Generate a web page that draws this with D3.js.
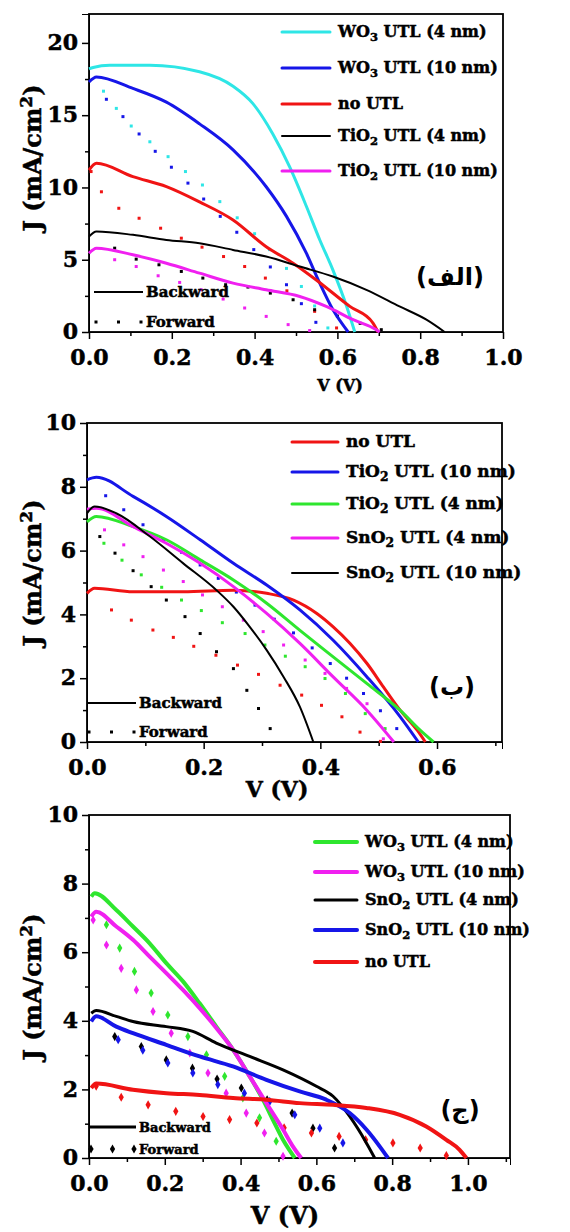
<!DOCTYPE html>
<html>
<head>
<meta charset="utf-8">
<script src="https://cdn.jsdelivr.net/npm/d3@7"></script>
<style>
  body { margin: 0; background: #fff; }
  svg { display: block; }
  .tick text { font-family: "DejaVu Serif", serif; font-weight: bold; }
  .heavy { stroke: #000; stroke-width: 0.5px; }
</style>
</head>
<body>
<div id="chart"></div>
<script>
// ---- panel (a) : [V, J] pairs, backward (solid) and forward (dots)
const a_wo3_4_bwd = [[0.0,18.2],[0.01,18.3],[0.05,18.45],[0.147,18.45],[0.267,18.0],[0.348,17.0],[0.396,15.8],[0.444,13.7],[0.485,11.4],[0.525,8.7],[0.557,6.4],[0.589,4.3],[0.622,1.8],[0.642,0]];
const a_wo3_10_bwd = [[0.0,17.3],[0.018,17.65],[0.106,16.85],[0.187,15.9],[0.267,14.4],[0.348,12.6],[0.428,10.05],[0.477,8.0],[0.525,5.45],[0.557,3.4],[0.589,1.55],[0.626,0]];
const a_noutl_bwd = [[0.0,11.2],[0.018,11.67],[0.106,10.75],[0.187,10.06],[0.267,9.0],[0.348,7.75],[0.428,5.9],[0.493,4.76],[0.549,3.6],[0.63,1.77],[0.686,0.62],[0.698,0]];
const a_tio2_4_bwd = [[0.0,6.6],[0.018,6.95],[0.106,6.72],[0.187,6.37],[0.267,6.14],[0.348,5.68],[0.428,5.22],[0.509,4.53],[0.589,3.84],[0.67,2.92],[0.75,1.77],[0.815,0.85],[0.859,0]];
const a_tio2_10_bwd = [[0.0,5.45],[0.018,5.8],[0.106,5.34],[0.187,4.76],[0.267,4.07],[0.348,3.38],[0.428,2.92],[0.509,2.46],[0.573,1.77],[0.638,0.85],[0.694,0.16],[0.702,0]];

const a_wo3_4_fwd = [[0.035,16.66],[0.066,15.47],[0.102,14.25],[0.147,13.16],[0.191,12.13],[0.233,11.1],[0.274,10.17],[0.316,9.02],[0.358,7.9],[0.4,6.8],[0.436,5.7],[0.477,4.4],[0.513,3.15],[0.545,1.8],[0.577,0.28]];
const a_wo3_10_fwd = [[0.042,16.1],[0.082,14.9],[0.121,13.7],[0.16,12.5],[0.199,11.4],[0.239,10.3],[0.277,9.2],[0.317,8.0],[0.357,6.9],[0.398,5.7],[0.438,4.5],[0.477,3.27],[0.513,1.96],[0.548,0.67]];
const a_noutl_fwd = [[0.005,11.1],[0.03,9.7],[0.072,8.56],[0.121,7.87],[0.173,7.18],[0.223,6.49],[0.273,5.87],[0.325,5.22],[0.376,4.53],[0.426,3.73],[0.478,2.85],[0.545,1.43],[0.598,0.28]];
const a_tio2_4_fwd = [[0.062,5.8],[0.114,5.04],[0.169,4.65],[0.223,4.19],[0.275,3.73],[0.33,3.27],[0.384,3.11],[0.438,2.69],[0.493,2.23],[0.545,1.54],[0.6,1.1],[0.655,0.6],[0.706,0.16]];
const a_tio2_10_fwd = [[0.062,5.0],[0.114,4.53],[0.167,3.89],[0.219,3.43],[0.271,2.92],[0.324,2.28],[0.376,1.66],[0.428,1.08],[0.481,0.51],[0.533,0.1]];

// ---- panel (b)
const b_noutl_bwd = [[0.0,4.66],[0.013,4.82],[0.079,4.71],[0.165,4.71],[0.251,4.76],[0.308,4.66],[0.354,4.45],[0.394,4.03],[0.422,3.61],[0.451,3.09],[0.48,2.46],[0.508,1.73],[0.537,0.99],[0.566,0.37],[0.58,0]];
const b_tio2_10_bwd = [[0.0,8.22],[0.016,8.3],[0.079,7.7],[0.136,7.07],[0.194,6.34],[0.251,5.6],[0.308,4.92],[0.365,4.14],[0.422,3.19],[0.48,2.04],[0.537,0.79],[0.568,0]];
const b_tio2_4_bwd = [[0.0,6.9],[0.016,7.07],[0.079,6.75],[0.136,6.34],[0.194,5.71],[0.251,5.08],[0.308,4.35],[0.365,3.5],[0.422,2.67],[0.48,1.83],[0.537,0.99],[0.571,0.37],[0.594,0]];
const b_sno2_4_bwd = [[0.0,7.3],[0.016,7.33],[0.079,6.75],[0.136,6.23],[0.194,5.6],[0.251,4.87],[0.308,4.03],[0.365,3.09],[0.422,2.04],[0.48,0.99],[0.526,0]];
const b_sno2_10_bwd = [[0.0,7.17],[0.013,7.38],[0.05,7.17],[0.108,6.44],[0.165,5.6],[0.222,4.76],[0.251,4.24],[0.279,3.61],[0.308,2.88],[0.337,2.04],[0.365,1.1],[0.388,0]];

const b_noutl_fwd = [[0.042,4.14],[0.076,3.82],[0.113,3.51],[0.148,3.28],[0.183,3.0],[0.221,2.72],[0.258,2.41],[0.294,2.12],[0.331,1.78],[0.368,1.47],[0.402,1.15],[0.437,0.79],[0.468,0.31],[0.503,0.02]];
const b_tio2_10_fwd = [[0.032,7.72],[0.063,7.28],[0.096,6.81],[0.131,6.34],[0.162,5.95],[0.194,5.55],[0.225,5.13],[0.256,4.7],[0.288,4.29],[0.321,3.85],[0.354,3.42],[0.386,2.95],[0.417,2.46],[0.445,2.0],[0.474,1.52],[0.503,0.98],[0.531,0.42]];
const b_tio2_4_fwd = [[0.029,6.23],[0.06,5.7],[0.093,5.24],[0.128,4.85],[0.162,4.45],[0.196,4.12],[0.232,3.74],[0.271,3.4],[0.305,3.04],[0.34,2.69],[0.374,2.36],[0.408,1.99],[0.443,1.52],[0.477,0.89],[0.511,0.42]];
const b_sno2_4_fwd = [[0.03,6.65],[0.063,6.18],[0.096,5.81],[0.131,5.39],[0.165,5.03],[0.198,4.61],[0.232,4.24],[0.268,3.82],[0.302,3.46],[0.337,3.04],[0.374,2.57],[0.408,2.15],[0.445,1.68],[0.48,1.2],[0.508,0.1]];
const b_sno2_10_fwd = [[0.022,6.44],[0.048,5.92],[0.079,5.37],[0.11,4.87],[0.136,4.45],[0.168,3.93],[0.194,3.4],[0.222,2.83],[0.251,2.3],[0.274,1.62],[0.294,1.05],[0.314,0.42]];

// ---- panel (c)
const c_wo3_4_bwd = [[0.006,7.62],[0.015,7.72],[0.072,7.23],[0.116,6.75],[0.16,6.26],[0.204,5.68],[0.248,5.15],[0.292,4.51],[0.336,3.83],[0.38,3.16],[0.424,2.38],[0.459,1.7],[0.485,1.12],[0.512,0.53],[0.543,0]];
const c_wo3_10_bwd = [[0.006,7.04],[0.019,7.18],[0.072,6.75],[0.116,6.36],[0.16,5.87],[0.204,5.39],[0.248,4.9],[0.292,4.37],[0.336,3.79],[0.38,3.16],[0.424,2.38],[0.468,1.6],[0.512,0.83],[0.538,0.34],[0.56,0]];
const c_sno2_4_bwd = [[0.006,4.22],[0.019,4.3],[0.072,4.13],[0.116,3.98],[0.204,3.83],[0.274,3.69],[0.336,3.35],[0.424,2.96],[0.512,2.57],[0.6,2.09],[0.644,1.8],[0.688,1.21],[0.732,0.44],[0.754,0]];
const c_sno2_10_bwd = [[0.006,3.98],[0.019,4.13],[0.072,3.83],[0.116,3.64],[0.204,3.3],[0.292,2.96],[0.38,2.67],[0.468,2.28],[0.556,1.94],[0.626,1.7],[0.688,1.31],[0.732,0.83],[0.767,0.34],[0.789,0]];
const c_noutl_bwd = [[0.006,2.04],[0.019,2.17],[0.116,1.99],[0.204,1.89],[0.292,1.84],[0.38,1.75],[0.468,1.7],[0.556,1.6],[0.644,1.55],[0.732,1.46],[0.82,1.26],[0.89,0.92],[0.943,0.53],[0.978,0.24],[0.996,0]];

const c_wo3_4_fwd = [[0.046,6.8],[0.081,6.12],[0.12,5.44],[0.164,4.81],[0.208,4.17],[0.261,3.54],[0.31,3.01],[0.358,2.38],[0.406,1.75],[0.45,1.17],[0.494,0.49]];
const c_wo3_10_fwd = [[0.011,6.94],[0.046,6.21],[0.085,5.53],[0.125,4.9],[0.169,4.27],[0.217,3.64],[0.266,3.06],[0.314,2.48],[0.362,1.89],[0.415,1.31],[0.463,0.73],[0.512,0.05]];
const c_sno2_4_fwd = [[0.068,3.54],[0.138,3.25],[0.204,2.86],[0.273,2.62],[0.338,2.3],[0.402,2.04],[0.47,1.7],[0.536,1.31],[0.591,0.87],[0.648,0.29]];
const c_sno2_10_fwd = [[0.077,3.45],[0.142,3.14],[0.208,2.77],[0.274,2.48],[0.34,2.14],[0.41,1.89],[0.477,1.65],[0.543,1.26],[0.609,0.87],[0.67,0.44]];
const c_noutl_fwd = [[0.019,2.09],[0.085,1.77],[0.156,1.55],[0.229,1.36],[0.301,1.21],[0.371,1.12],[0.443,1.02],[0.515,0.88],[0.587,0.73],[0.66,0.63],[0.73,0.53],[0.802,0.44],[0.874,0.29],[0.943,0.07]];

// legend labels [base, subscript, rest]
const a_labels = [["WO","3"," UTL (4 nm)"],["WO","3"," UTL (10 nm)"],["no UTL","",""],["TiO","2"," UTL (4 nm)"],["TiO","2"," UTL (10 nm)"]];
const b_labels = [["no UTL","",""],["TiO","2"," UTL (10 nm)"],["TiO","2"," UTL (4 nm)"],["SnO","2"," UTL (4 nm)"],["SnO","2"," UTL (10 nm)"]];
const c_labels = [["WO","3"," UTL (4 nm)"],["WO","3"," UTL (10 nm)"],["SnO","2"," UTL (4 nm)"],["SnO","2"," UTL (10 nm)"],["no UTL","",""]];

const a_ticksX = [0, 0.2, 0.4, 0.6, 0.8, 1.0];
const a_ticksY = [0, 5, 10, 15, 20];
const b_ticksX = [0, 0.2, 0.4, 0.6];
const b_ticksY = [0, 2, 4, 6, 8, 10];
const c_ticksX = [0, 0.2, 0.4, 0.6, 0.8, 1.0];
const c_ticksY = [0, 2, 4, 6, 8, 10];

const cyan = "#2ee6e6", blue = "#1616e8", red = "#f01414", black = "#000", magenta = "#f020f0", green = "#2ee62e";

const panels = [
  {
    x0: 89, x1: 503, y0: 14, y1: 332, xmax: 1.0, ymax: 22,
    ticksX: a_ticksX, ticksY: a_ticksY, minorX: 0.1, minorY: 2.5, fmtY: d3.format("d"),
    series: [
      {bwd: a_wo3_4_bwd, fwd: a_wo3_4_fwd, color: cyan, w: 3},
      {bwd: a_wo3_10_bwd, fwd: a_wo3_10_fwd, color: blue, w: 3},
      {bwd: a_noutl_bwd, fwd: a_noutl_fwd, color: red, w: 3},
      {bwd: a_tio2_4_bwd, fwd: a_tio2_4_fwd, color: black, w: 2},
      {bwd: a_tio2_10_bwd, fwd: a_tio2_10_fwd, color: magenta, w: 3}
    ],
    labels: a_labels, legX: 282, legLen: 48, legRows: [32, 68, 104, 136, 171], legFont: 16,
    bfY: [292, 322], bfX: [94, 143], bfFont: 15, bfW: 2,
    tag: "(الف)", tagX: 450, tagY: 285,
    ylabY: 158, xlabX: 340, xlabY: 391, xlabFont: 16, fontTick: 22
  },
  {
    x0: 87, x1: 502, y0: 423, y1: 742, xmax: 0.7114, ymax: 10,
    ticksX: b_ticksX, ticksY: b_ticksY, minorX: 0.1, minorY: 1, fmtY: d3.format("d"),
    series: [
      {bwd: b_noutl_bwd, fwd: b_noutl_fwd, color: red, w: 3},
      {bwd: b_tio2_10_bwd, fwd: b_tio2_10_fwd, color: blue, w: 3},
      {bwd: b_tio2_4_bwd, fwd: b_tio2_4_fwd, color: green, w: 3},
      {bwd: b_sno2_4_bwd, fwd: b_sno2_4_fwd, color: magenta, w: 3},
      {bwd: b_sno2_10_bwd, fwd: b_sno2_10_fwd, color: black, w: 2}
    ],
    labels: b_labels, legX: 292, legLen: 46, legRows: [442, 472, 504, 538, 573], legFont: 17,
    bfY: [703, 732], bfX: [87, 136], bfFont: 15, bfW: 2,
    tag: "(ب)", tagX: 452, tagY: 695,
    ylabY: 573, xlabX: 277, xlabY: 797, xlabFont: 22, fontTick: 22
  },
  {
    x0: 89, x1: 510, y0: 815, y1: 1158, xmax: 1.111, ymax: 10,
    ticksX: c_ticksX, ticksY: c_ticksY, minorX: 0.1, minorY: 1, fmtY: d3.format("d"),
    series: [
      {bwd: c_wo3_4_bwd, fwd: c_wo3_4_fwd, color: green, w: 4, big: true},
      {bwd: c_wo3_10_bwd, fwd: c_wo3_10_fwd, color: magenta, w: 4, big: true},
      {bwd: c_sno2_4_bwd, fwd: c_sno2_4_fwd, color: black, w: 3, big: true},
      {bwd: c_sno2_10_bwd, fwd: c_sno2_10_fwd, color: blue, w: 4, big: true},
      {bwd: c_noutl_bwd, fwd: c_noutl_fwd, color: red, w: 4, big: true}
    ],
    labels: c_labels, legX: 315, legLen: 42, legRows: [842, 872, 900, 930, 962], legFont: 16,
    bfY: [1127, 1149], bfX: [89, 136], bfFont: 13, bfW: 3, bfBig: true,
    tag: "(ج)", tagX: 460, tagY: 1118,
    ylabY: 987, xlabX: 285, xlabY: 1224, xlabFont: 24, fontTick: 22
  }
];

const svg = d3.select("#chart").append("svg").attr("width", 570).attr("height", 1232);
const diamond = d3.symbol().type(d3.symbolDiamond).size(24);

panels.forEach(function(p) {
  var x = d3.scaleLinear().domain([0, p.xmax]).range([p.x0, p.x1]);
  var y = d3.scaleLinear().domain([0, p.ymax]).range([p.y1, p.y0]);
  var g = svg.append("g");

  // minor ticks
  var minorX = d3.range(0, p.xmax + 1e-9, p.minorX).filter(v => !p.ticksX.some(t => Math.abs(t - v) < 1e-6));
  var minorY = d3.range(0, p.ymax + 1e-9, p.minorY).filter(v => !p.ticksY.some(t => Math.abs(t - v) < 1e-6));
  g.append("g").attr("transform", "translate(0," + p.y1 + ")")
    .call(d3.axisBottom(x).tickValues(minorX).tickSize(4).tickFormat(""))
    .call(s => s.select(".domain").remove());
  g.append("g").attr("transform", "translate(" + p.x0 + ",0)")
    .call(d3.axisLeft(y).tickValues(minorY).tickSize(4).tickFormat(""))
    .call(s => s.select(".domain").remove());

  // major axes
  var ax = g.append("g").attr("transform", "translate(0," + p.y1 + ")")
    .call(d3.axisBottom(x).tickValues(p.ticksX).tickSize(7).tickPadding(10).tickFormat(d3.format(".1f")));
  ax.selectAll("text").style("font-size", p.fontTick + "px").attr("fill", "#000").attr("class", "heavy");
  var ay = g.append("g").attr("transform", "translate(" + p.x0 + ",0)")
    .call(d3.axisLeft(y).tickValues(p.ticksY).tickSize(7).tickPadding(4).tickFormat(p.fmtY));
  ay.selectAll("text").style("font-size", p.fontTick + "px").attr("fill", "#000").attr("dy", "0.3em").attr("class", "heavy");
  g.selectAll(".tick line").attr("stroke-width", 1.5);

  // frame
  g.append("rect").attr("x", p.x0).attr("y", p.y0)
    .attr("width", p.x1 - p.x0).attr("height", p.y1 - p.y0)
    .attr("fill", "none").attr("stroke", "#000").attr("stroke-width", 1.8);

  var line = d3.line().x(d => x(d[0])).y(d => y(d[1])).curve(d3.curveMonotoneX);

  // forward dots
  p.series.forEach(function(s) {
    if (s.big) {
      g.append("g").selectAll("path").data(s.fwd).enter().append("path")
        .attr("d", diamond)
        .attr("transform", d => "translate(" + x(d[0]) + "," + y(d[1]) + ")")
        .attr("fill", s.color);
    } else {
      g.append("g").selectAll("rect").data(s.fwd).enter().append("rect")
        .attr("x", d => x(d[0]) - 1.5).attr("y", d => y(d[1]) - 1.5)
        .attr("width", 3).attr("height", 3).attr("fill", s.color);
    }
  });

  // backward lines
  p.series.forEach(function(s) {
    g.append("path").datum(s.bwd).attr("d", line)
      .attr("fill", "none").attr("stroke", s.color)
      .attr("stroke-width", s.w).attr("stroke-linejoin", "round");
  });

  // legend
  p.series.forEach(function(s, i) {
    var ly = p.legRows[i];
    g.append("line").attr("x1", p.legX).attr("x2", p.legX + p.legLen)
      .attr("y1", ly).attr("y2", ly).attr("stroke", s.color)
      .attr("stroke-width", s.w).attr("stroke-linecap", "round");
    var t = g.append("text").attr("x", p.legX + p.legLen + 8).attr("y", ly + 5)
      .attr("class", "heavy")
      .style("font-family", "'DejaVu Serif', serif").style("font-weight", "bold")
      .style("font-size", p.legFont + "px");
    var lab = p.labels[i];
    t.append("tspan").text(lab[0]);
    if (lab[1]) {
      t.append("tspan").attr("dy", 4).style("font-size", (p.legFont * 0.72) + "px").text(lab[1]);
      t.append("tspan").attr("dy", -4).text(lab[2]);
    }
  });

  // backward / forward key
  g.append("line").attr("x1", p.bfX[0]).attr("x2", p.bfX[1])
    .attr("y1", p.bfY[0]).attr("y2", p.bfY[0]).attr("stroke", "#000").attr("stroke-width", p.bfW);
  [0, 0.5, 1].forEach(function(f) {
    var cx = p.bfX[0] + 2 + f * (p.bfX[1] - p.bfX[0] - 4);
    if (p.bfBig) {
      g.append("path").attr("d", diamond).attr("transform", "translate(" + cx + "," + p.bfY[1] + ")").attr("fill", "#000");
    } else {
      g.append("rect").attr("x", cx - 1.5).attr("y", p.bfY[1] - 1.5)
        .attr("width", 3).attr("height", 3).attr("fill", "#000");
    }
  });
  [["Backward", p.bfY[0]], ["Forward", p.bfY[1]]].forEach(function(r) {
    g.append("text").attr("x", p.bfX[1] + 3).attr("y", r[1] + 5).attr("class", "heavy")
      .style("font-family", "'DejaVu Serif', serif").style("font-weight", "bold")
      .style("font-size", p.bfFont + "px").text(r[0]);
  });

  // panel tag
  g.append("text").attr("x", p.tagX).attr("y", p.tagY).attr("text-anchor", "middle")
    .style("font-family", "'DejaVu Sans', sans-serif").style("font-weight", "bold")
    .style("font-size", "24px").text(p.tag);

  // axis labels
  g.append("text").attr("transform", "translate(41," + p.ylabY + ") rotate(-90)")
    .attr("text-anchor", "middle").attr("class", "heavy")
    .style("font-family", "'DejaVu Serif', serif").style("font-weight", "bold")
    .style("font-size", "24px")
    .call(t => {
      t.append("tspan").text("J (mA/cm");
      t.append("tspan").attr("dy", -9).style("font-size", "17px").text("2");
      t.append("tspan").attr("dy", 9).text(")");
    });
  g.append("text").attr("x", p.xlabX).attr("y", p.xlabY).attr("text-anchor", "middle").attr("class", "heavy")
    .style("font-family", "'DejaVu Serif', serif").style("font-weight", "bold")
    .style("font-size", p.xlabFont + "px").text("V (V)");
});
</script>
</body>
</html>
